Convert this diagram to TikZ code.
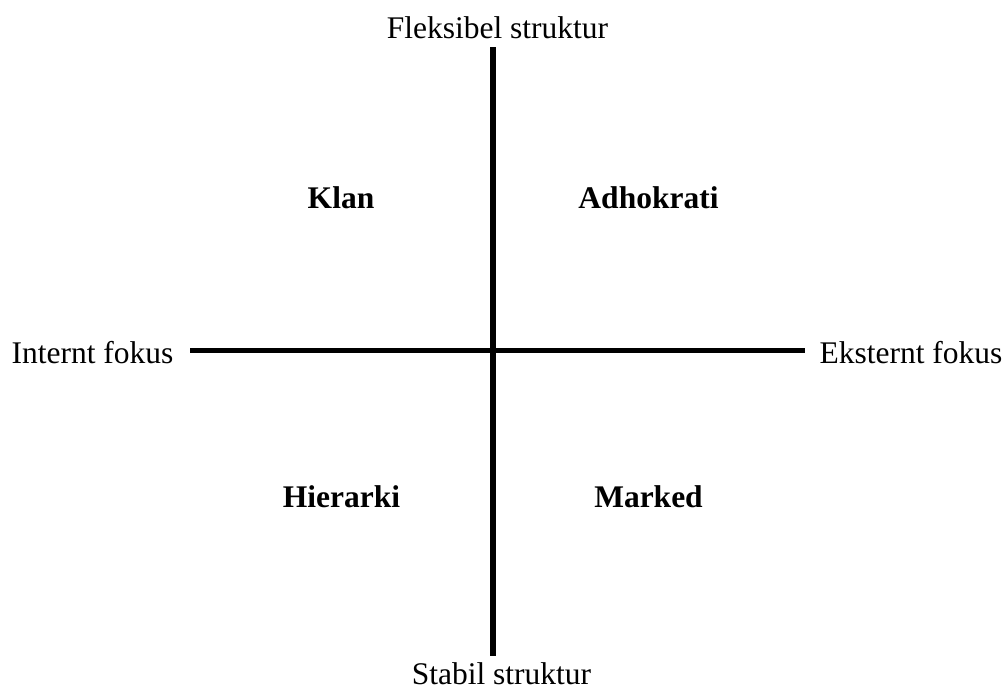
\documentclass[tikz,border=0pt]{standalone}
\usepackage{fontspec}
\setmainfont{Liberation Serif}
\begin{document}
\begin{tikzpicture}[x=1pt,y=-1pt,
  lbl/.style={anchor=base,inner sep=0pt,font=\fontsize{31.5}{38}\selectfont},
  quad/.style={lbl,font=\fontsize{31.5}{38}\selectfont\bfseries},
  axis/.style={line width=5.6pt,black}]
\useasboundingbox (0,0) rectangle (1006,689);
\coordinate (top) at (493,47);
\coordinate (bot) at (493,656);
\coordinate (lft) at (190,350.5);
\coordinate (rgt) at (805,350.5);
\draw[axis] (top) -- (bot);
\draw[axis] (lft) -- (rgt);
\node[lbl] (fleks) at (497.5,38) {Fleksibel struktur};
\node[lbl] (stabil) at (501.5,684) {Stabil struktur};
\node[lbl] (intern) at (92.5,363) {Internt fokus};
\node[lbl] (ekstern) at (911,363) {Eksternt fokus};
\node[quad] (klan) at (341,208) {Klan};
\node[quad] (adho) at (648.5,208) {Adhokrati};
\node[quad] (hier) at (341.5,507) {Hierarki};
\node[quad] (marked) at (648.5,507) {Marked};
\end{tikzpicture}
\end{document}
